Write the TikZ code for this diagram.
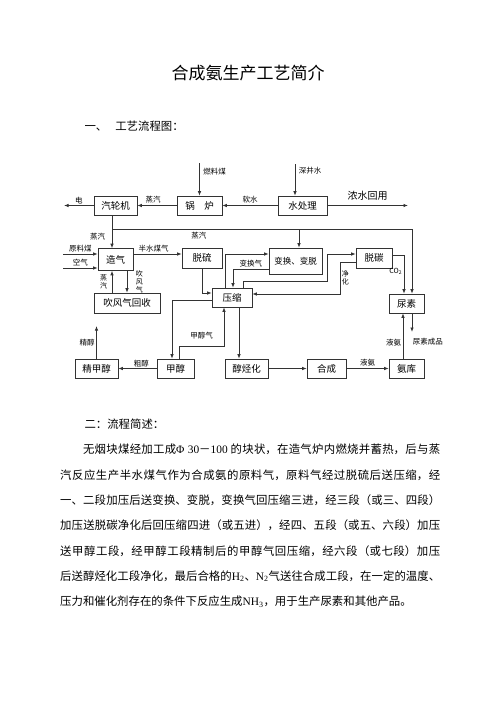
\documentclass[tikz,border=0pt]{standalone}
\usepackage{fontspec}
\setmainfont{Noto Sans CJK SC}
\newfontfamily\latinrm{Liberation Serif}
\usepackage{xcolor}
\usepackage{tikz}
\usetikzlibrary{positioning, arrows.meta, calc}
\definecolor{flowgray}{HTML}{333333}
\XeTeXlinebreaklocale "zh"
\XeTeXlinebreakskip=0pt plus 1pt minus 0.5pt

\begin{document}
\begin{tikzpicture}[x=1pt, y=-1pt,
    box/.style={draw=flowgray, line width=0.6pt, minimum height=19pt, inner sep=1pt,
                font=\fontsize{9.5}{11}\selectfont},
    lab/.style={font=\fontsize{7.5}{8}\selectfont, inner sep=0.5pt},
    vlab/.style={align=center, font=\fontsize{7}{8}\selectfont, inner sep=0.5pt},
    flow/.style={draw=flowgray, line width=0.8pt, -{Latex[length=4.5pt,width=3.5pt]}}]
    \path[fill=white, use as bounding box] (0,0) rectangle (496,702);

    \node (title) at (248,73) {\fontsize{17}{20}\selectfont 合成氨生产工艺简介};
    \node[anchor=west, font=\fontsize{11.4}{14}\selectfont] (parta) at (81,126) {一、\hspace{0.7em}工艺流程图：};

    \node[box, minimum width=43pt] (turbine) at (115.5,205.5) {汽轮机};
    \node[box, minimum width=45pt] (boiler) at (199.5,205.5) {锅\hspace{1em}炉};
    \node[box, minimum width=49pt] (water) at (302.5,205.5) {水处理};
    \node[box, minimum width=35pt, minimum height=22pt] (gasify) at (115.5,259.5) {造气};
    \node[box, minimum width=40pt, minimum height=20pt] (desulf) at (202,258) {脱硫};
    \node[box, minimum width=53pt, minimum height=26pt, font=\fontsize{8.5}{10}\selectfont] (shift) at (295.5,261) {变换、变脱};
    \node[box, minimum width=36pt, minimum height=20pt] (decarb) at (374,258) {脱碳};
    \node[box, minimum width=66pt, minimum height=20pt] (blowgas) at (127,303) {吹风气回收};
    \node[box, minimum width=40pt] (compress) at (232,297.5) {压缩};
    \node[box, minimum width=35pt] (urea) at (406.5,303.5) {尿素};
    \node[box, minimum width=43pt] (puremeth) at (96.5,368.5) {精甲醇};
    \node[box, minimum width=37pt] (methanol) at (175.5,368.5) {甲醇};
    \node[box, minimum width=43pt] (alkyl) at (246.5,368.5) {醇烃化};
    \node[box, minimum width=39pt] (synth) at (326.5,368.5) {合成};
    \node[box, minimum width=35pt] (ammonia) at (406.5,368.5) {氨库};

    \coordinate (fuelin) at (199.5,163);
    \coordinate (wellin) at (295,164);
    \coordinate (power) at (64,205.5);
    \coordinate (reuse) at (408,205.5);
    \draw[flow] (fuelin) -- (boiler.north) node[lab, anchor=west, pos=0.25, xshift=3pt] {燃料煤};
    \draw[flow] (wellin) -- (wellin |- water.north) node[lab, anchor=west, pos=0.2, xshift=3pt] {深井水};
    \draw[flow] (turbine.west) -- (power) node[lab, above=1pt, midway] {电};
    \draw[flow] (boiler.west) -- (turbine.east) node[lab, above=1pt, pos=0.6] {蒸汽};
    \draw[flow] (water.west) -- (boiler.east) node[lab, above=1pt, midway] {软水};
    \draw[flow] (water.east) -- (reuse) node[above=1pt, midway, font=\fontsize{10}{12}\selectfont] {浓水回用};

    \coordinate (stm) at (112,229);
    \coordinate (stmend) at (412,229);
    \coordinate (stmshift) at (299,229);
    \draw[flow] (stm |- turbine.south) -- (stm |- gasify.north) node[lab, left=6pt, pos=0.64] {蒸汽};
    \draw[flow] (stm) -- node[lab, below=2pt, pos=0.29] {蒸汽} (stmend) -- (stmend |- urea.north);
    \draw[flow] (stmshift) -- (stmshift |- shift.north);

    \coordinate (coalin) at (63,254);
    \coordinate (airin) at (63,268);
    \draw[flow] (coalin) -- (coalin -| gasify.west) node[lab, above=1pt, midway] {原料煤};
    \draw[flow] (airin) -- (airin -| gasify.west) node[lab, above=1pt, midway] {空气};
    \draw[flow] (gasify.east |- coalin) -- (desulf.west |- coalin) node[lab, above=1pt, pos=0.42] {半水煤气};
    \draw[flow] (gasify.south -| blowgas.north) -- (blowgas.north) node[vlab, right=8pt, midway] {吹\\风\\气};
    \draw[flow] (blowgas.north -| stm) -- (gasify.south -| stm) node[vlab, left=4pt, midway] {蒸\\汽};

    \coordinate (dsjoin) at (202,293);
    \draw[flow] (desulf.south) -- (dsjoin) -- (dsjoin -| compress.west);

    \coordinate (c2s) at (225,254);
    \coordinate (s2c) at (233,269);
    \draw[flow] (c2s |- compress.north) -- (c2s) -- (c2s -| shift.west);
    \draw[flow] (s2c -| shift.west) -- node[lab, above=1pt, pos=0.5] {变换气} (s2c) -- (s2c |- compress.north);

    \coordinate (c2d) at (243,281);
    \coordinate (c2dup) at (327,281);
    \coordinate (c2dtop) at (327,254);
    \draw[flow] (c2d |- compress.north) -- (c2d) -- (c2dup) -- (c2dtop) -- (c2dtop -| decarb.west);

    \coordinate (d2c) at (340,262);
    \coordinate (d2cdown) at (340,294);
    \draw[flow] (d2c -| decarb.west) -- (d2c) -- node[vlab, right=1pt, midway] {净\\化} (d2cdown) -- (d2cdown -| compress.east);

    \coordinate (co2) at (404,255);
    \draw[flow] (co2 -| decarb.east) -- (co2) -- node[lab, left=1pt, pos=0.42, font=\fontsize{7}{8}\selectfont] {CO\textsubscript{2}} (co2 |- urea.north);

    \coordinate (product) at (412,332);
    \coordinate (nh3up) at (403,360);
    \draw[flow] (product |- urea.south) -- (product) node[lab, anchor=north west, yshift=-5pt] {尿素成品};
    \draw[flow] (nh3up |- ammonia.north) -- (nh3up |- urea.south) node[lab, left=1pt, pos=0.35] {液氨};

    \draw[flow] (methanol.west) -- (puremeth.east) node[lab, above=1pt, pos=0.4] {粗醇};
    \draw[flow] (alkyl.east) -- (synth.west);
    \draw[flow] (synth.east) -- (ammonia.west) node[lab, above=1pt, midway] {液氨};
    \coordinate (pureout) at (96.5,326);
    \draw[flow] (puremeth.north) -- (pureout) node[lab, left=1pt, midway] {精醇};

    \coordinate (c2m) at (172,300);
    \coordinate (m2c) at (179,346);
    \coordinate (m2cup) at (224,346);
    \coordinate (c2a) at (239,307);
    \draw[flow] (c2m -| compress.west) -- (c2m) -- (c2m |- methanol.north);
    \draw[flow] (m2c |- methanol.north) -- (m2c) -- node[lab, above=6pt, midway] {甲醇气} (m2cup) -- (m2cup |- compress.south);
    \draw[flow] (c2a |- compress.south) -- (c2a |- alkyl.north);

    \node[anchor=west, font=\fontsize{11.4}{14}\selectfont] (partb) at (81,424) {二：流程简述：};
    \node[anchor=north west, inner sep=0pt, text width=380pt, align=justify,
          font=\fontsize{11.4}{25.3}\selectfont] (desc) at (60,444) {%
      \hspace*{2em}无烟块煤经加工成{\latinrm Φ 30}－{\latinrm 100} 的块状，在造气炉内燃烧并蓄热，后与蒸\linebreak
      汽反应生产半水煤气作为合成氨的原料气，原料气经过脱硫后送压缩，经\linebreak
      一、二段加压后送变换、变脱，变换气回压缩三进，经三段（或三、四段）\linebreak
      加压送脱碳净化后回压缩四进（或五进），经四、五段（或五、六段）加压\linebreak
      送甲醇工段，经甲醇工段精制后的甲醇气回压缩，经六段（或七段）加压\linebreak
      后送醇烃化工段净化，最后合格的{\latinrm H\textsubscript{2}}、{\latinrm N\textsubscript{2}}气送往合成工段，在一定的温度、\linebreak
      压力和催化剂存在的条件下反应生成{\latinrm NH\textsubscript{3}}，用于生产尿素和其他产品。};
\end{tikzpicture}
\end{document}
